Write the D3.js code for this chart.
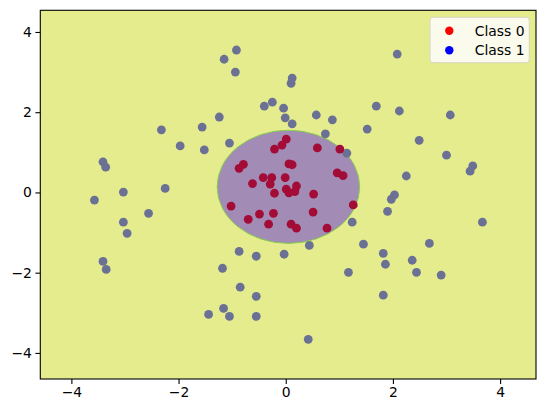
<!DOCTYPE html>
<html><head><meta charset="utf-8">
<script src="https://cdn.jsdelivr.net/npm/d3@7"></script>
<style>body{margin:0;background:#fff}svg{display:block}</style>
</head><body>
<svg id="c" width="546" height="413"></svg>
<script>
const class0X=[0.01,-0.07,-0.21,0.59,1.01,-0.79,-0.87,0.06,0.12,0.96,1.07,-0.62,-0.42,-0.26,-0.29,-0.01,0.20,0.01,0.06,0.17,-0.21,0.52,-1.02,1.26,0.51,-0.49,-0.23,-0.70,-0.32,0.10,0.20,0.77];
const class0Y=[1.33,1.18,1.08,1.11,1.08,0.70,0.60,0.71,0.69,0.49,0.42,0.22,0.37,0.37,0.21,0.37,0.16,0.08,-0.01,0.02,-0.02,-0.04,-0.34,-0.31,-0.49,-0.54,-0.52,-0.67,-0.79,-0.79,-0.89,-0.89];
const class1X=[-0.92,-1.15,-0.94,0.12,0.10,-0.25,-0.40,-0.04,-0.01,0.12,-1.24,-2.32,-1.56,-1.97,-1.52,-1.05,-3.41,-3.36,-3.03,-2.25,-3.57,2.08,0.57,0.87,1.69,2.12,3.07,1.52,0.74,2.49,3.00,3.49,3.44,2.25,1.14,2.03,1.97,1.90,3.67,1.24,1.45,2.68,0.44,-0.03,1.82,1.86,2.36,2.44,2.90,1.17,1.82,0.42,-2.56,-3.03,-2.96,-3.41,-3.35,-0.87,-0.55,-1.18,-0.85,-0.55,-1.16,-1.44,-1.05,-0.55];
const class1Y=[3.55,3.32,3.00,2.85,2.72,2.25,2.15,2.10,1.86,1.71,1.88,1.56,1.63,1.16,1.06,1.23,0.76,0.63,0.01,0.10,-0.19,3.45,1.93,1.81,2.15,2.03,1.93,1.58,1.46,1.30,0.93,0.66,0.53,0.41,0.98,-0.06,-0.17,-0.47,-0.74,-0.74,-1.29,-1.27,-1.32,-1.54,-1.52,-1.79,-1.69,-1.99,-2.06,-1.99,-2.56,-3.66,-0.52,-0.74,-1.02,-1.72,-1.92,-1.47,-1.59,-1.89,-2.36,-2.59,-2.89,-3.04,-3.09,-3.09];
const boundaryCenter=[0.05,0.14];
const boundaryRadii=[1.33,1.41];
const xTicks=[-4,-2,0,2,4];
const yTicks=[-4,-2,0,2,4];
const legendLabels=["Class 0","Class 1"];

const svg=d3.select("#c");
const L=40.3,R=536,T=10.3,B=379;
const x=d3.scaleLinear().domain([-4.58,4.67]).range([L,R]);
const y=d3.scaleLinear().domain([-4.65,4.54]).range([B,T]);

svg.append("rect").attr("x",L).attr("y",T).attr("width",R-L).attr("height",B-T).attr("fill","#e5ec8d");
svg.append("ellipse")
  .attr("cx",x(boundaryCenter[0])).attr("cy",y(boundaryCenter[1]))
  .attr("rx",x(boundaryCenter[0]+boundaryRadii[0])-x(boundaryCenter[0]))
  .attr("ry",y(boundaryCenter[1])-y(boundaryCenter[1]+boundaryRadii[1]))
  .attr("fill","#a28bb5").attr("stroke","#86cf4c").attr("stroke-width",1);

const g=svg.append("g");
g.selectAll("circle.c1").data(class1X.map((v,i)=>[v,class1Y[i]])).join("circle")
  .attr("cx",d=>x(d[0])).attr("cy",d=>y(d[1])).attr("r",4.4).attr("fill","#6b7194");
g.selectAll("circle.c0").data(class0X.map((v,i)=>[v,class0Y[i]])).join("circle")
  .attr("cx",d=>x(d[0])).attr("cy",d=>y(d[1])).attr("r",4.4).attr("fill","#a30c36");

const fmt=d=>d<0?"\u2212"+Math.abs(d):String(d);
const xa=svg.append("g").attr("transform",`translate(0,${B})`)
  .call(d3.axisBottom(x).tickValues(xTicks).tickFormat(fmt).tickSize(4.9).tickPadding(3.5));
const ya=svg.append("g").attr("transform",`translate(${L},0)`)
  .call(d3.axisLeft(y).tickValues(yTicks).tickFormat(fmt).tickSize(4.9).tickPadding(3.5));
[xa,ya].forEach(a=>{a.select(".domain").remove();a.selectAll("line").attr("stroke","#000").attr("stroke-width",1.1);
  a.selectAll("text").attr("font-family","DejaVu Sans").attr("font-size","13.9px").attr("fill","#000");});
svg.append("rect").attr("x",L).attr("y",T).attr("width",R-L).attr("height",B-T)
  .attr("fill","none").attr("stroke","#000").attr("stroke-width",1.1);

const lg=svg.append("g");
lg.append("rect").attr("x",430).attr("y",17.3).attr("width",99.3).attr("height",45.4).attr("rx",3)
  .attr("fill","#fafbed").attr("stroke","#d4d6c0").attr("stroke-width",1);
const lc=["#ff0000","#0000ff"];
legendLabels.forEach((t,i)=>{
  lg.append("circle").attr("cx",449.3).attr("cy",30.7+i*19.6).attr("r",4.2).attr("fill",lc[i]);
  lg.append("text").attr("x",474.7).attr("y",30.7+i*19.6).attr("dy","0.36em")
    .attr("font-family","DejaVu Sans").attr("font-size","13.9px").attr("fill","#000").text(t);
});
</script>
</body></html>
